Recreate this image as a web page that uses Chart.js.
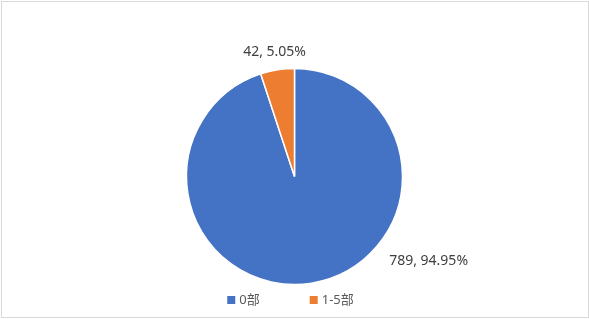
<!DOCTYPE html>
<html>
<head>
<meta charset="utf-8">
<script src="https://cdn.jsdelivr.net/npm/chart.js@4"></script>
<style>
  html, body { margin: 0; padding: 0; background: #fff; }
  #wrap { width: 589px; height: 319px; }
</style>
</head>
<body>
<div id="wrap"><canvas id="pieChart" width="589" height="319"></canvas></div>
<script>
// datos del gráfico
const categories = ['0部', '1-5部'];
const counts = [789, 42];
const sliceColors = ['#4472C4', '#ED7D31'];

// posición de las etiquetas: fracción del ángulo del sector y factor de radio
const labelAngleFrac = [0.358, 0.5];
const labelRadiusFactor = [1.47, 1.167];

const FONT = '"Noto Sans", "Noto Sans CJK SC", sans-serif';

const total = counts.reduce((a, b) => a + b, 0);

// marco gris alrededor del gráfico
const framePlugin = {
    id: 'frame',
    beforeDraw(chart) {
        const ctx = chart.ctx;
        ctx.save();
        ctx.fillStyle = '#fff';
        ctx.fillRect(0, 0, chart.width, chart.height);
        ctx.strokeStyle = '#D9D9D9';
        ctx.lineWidth = 1;
        ctx.strokeRect(1.5, 1.5, chart.width - 2, chart.height - 3);
        ctx.restore();
    }
};

// etiquetas "valor, porcentaje" fuera del pastel
const labelPlugin = {
    id: 'sliceLabels',
    afterDatasetsDraw(chart) {
        const ctx = chart.ctx;
        const meta = chart.getDatasetMeta(0);
        ctx.save();
        ctx.font = '14px ' + FONT;
        ctx.fillStyle = '#404040';
        ctx.textAlign = 'center';
        ctx.textBaseline = 'middle';
        meta.data.forEach((arc, i) => {
            const p = arc.getProps(['startAngle', 'endAngle', 'outerRadius', 'x', 'y'], true);
            const a = p.startAngle + labelAngleFrac[i] * (p.endAngle - p.startAngle);
            const r = p.outerRadius * labelRadiusFactor[i];
            const v = counts[i];
            const txt = v + ', ' + (v / total * 100).toFixed(2) + '%';
            ctx.fillText(txt, p.x + Math.cos(a) * r, p.y + Math.sin(a) * r);
        });
        ctx.restore();
    }
};

// leyenda inferior
const legendPlugin = {
    id: 'bottomLegend',
    afterDraw(chart) {
        const ctx = chart.ctx;
        ctx.save();
        ctx.font = '13px ' + FONT;
        ctx.textBaseline = 'middle';
        const box = 8, gap = 4, spacing = 50;
        const widths = categories.map(c => box + gap + ctx.measureText(c).width);
        const totalW = widths.reduce((a, b) => a + b, 0) + spacing * (categories.length - 1);
        let x = chart.width / 2 - 4 - totalW / 2;
        const y = 300;
        categories.forEach((c, i) => {
            ctx.fillStyle = sliceColors[i];
            ctx.fillRect(x, y - box / 2, box, box);
            ctx.fillStyle = '#595959';
            ctx.fillText(c, x + box + gap, y + 0.5);
            x += widths[i] + spacing;
        });
        ctx.restore();
    }
};

new Chart(document.getElementById('pieChart'), {
    type: 'pie',
    data: {
        labels: categories,
        datasets: [{
            data: counts,
            backgroundColor: sliceColors,
            borderColor: '#ffffff',
            borderWidth: 1.5,
            radius: 108
        }]
    },
    options: {
        responsive: false,
        animation: false,
        layout: { padding: { top: 34, left: 0, right: 0, bottom: 0 } },
        plugins: {
            legend: { display: false },
            tooltip: { enabled: false }
        }
    },
    plugins: [framePlugin, labelPlugin, legendPlugin]
});
</script>
</body>
</html>
